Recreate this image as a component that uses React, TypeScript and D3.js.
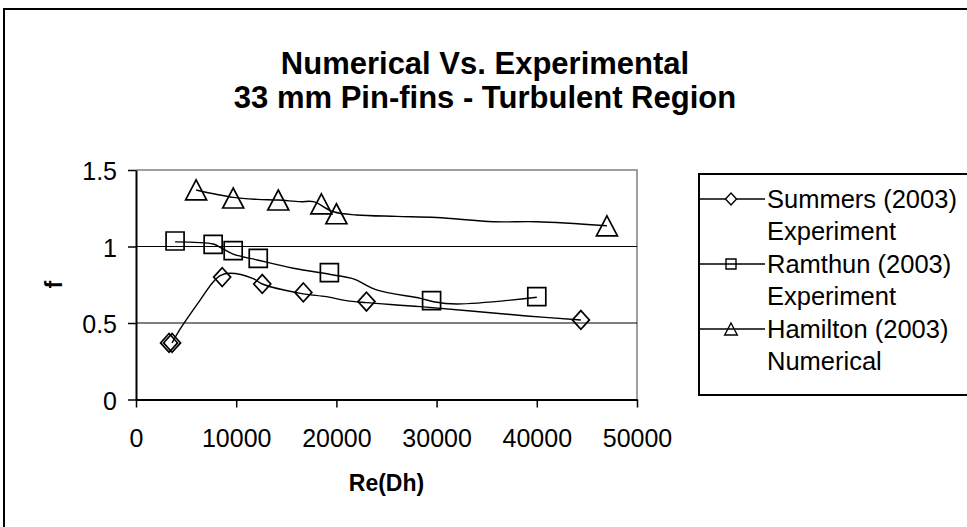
import { useEffect, useRef } from "react";
import * as d3 from "d3";

const WIDTH = 967;
const HEIGHT = 527;
const FONT = "'Liberation Sans', Arial, sans-serif";

// plot area in pixels
const PLOT = { left: 136, right: 637, top: 170, bottom: 399.5 };

const xTicks = [0, 10000, 20000, 30000, 40000, 50000];
const yTicks = [0, 0.5, 1, 1.5];
const yTickLabels = ["0", "0.5", "1", "1.5"];

// Summers (2003) Experiment
const summersRe = [3300, 3600, 8600, 12600, 16700, 23000, 44400];
const summersF = [0.37, 0.37, 0.8, 0.755, 0.7, 0.64, 0.52];
const summersLineRe = [3600, 4400, 6400, 7600, 8400, 9400, 11700, 12600, 16400, 19000, 21000, 23000, 28400, 39000, 44400];
const summersLineF = [0.37, 0.46, 0.65, 0.76, 0.81, 0.825, 0.79, 0.755, 0.694, 0.672, 0.646, 0.633, 0.607, 0.546, 0.52];

// Ramthun (2003) Experiment
const ramthunRe = [3900, 7700, 9700, 12200, 19300, 29500, 40000];
const ramthunF = [1.036, 1.014, 0.973, 0.923, 0.829, 0.646, 0.672];
const ramthunLineRe = [3900, 7700, 8400, 9700, 12100, 15700, 19700, 21700, 24000, 28400, 29700, 32000, 40000];
const ramthunLineF = [1.03, 1.016, 0.995, 0.95, 0.912, 0.858, 0.814, 0.788, 0.716, 0.661, 0.639, 0.624, 0.668];

// Hamilton (2003) Numerical
const hamiltonRe = [6000, 9700, 14200, 18500, 20000, 47000];
const hamiltonF = [1.37, 1.317, 1.304, 1.279, 1.214, 1.135];
const hamiltonLineRe = [6000, 9700, 12100, 14200, 16400, 17700, 19700, 22000, 26000, 30000, 35700, 40000, 47000];
const hamiltonLineF = [1.369, 1.321, 1.308, 1.304, 1.293, 1.293, 1.227, 1.206, 1.197, 1.19, 1.162, 1.162, 1.136];

const series = [
  { name: ["Summers (2003)", "Experiment"], marker: "diamond", re: summersRe, f: summersF, lineRe: summersLineRe, lineF: summersLineF },
  { name: ["Ramthun (2003)", "Experiment"], marker: "square", re: ramthunRe, f: ramthunF, lineRe: ramthunLineRe, lineF: ramthunLineF },
  { name: ["Hamilton (2003)", "Numerical"], marker: "triangle", re: hamiltonRe, f: hamiltonF, lineRe: hamiltonLineRe, lineF: hamiltonLineF },
];

// marker path centred on 0,0
const markerPath = (kind: string, s: number) => {
  const h = s / 2;
  if (kind === "diamond") return `M0,${-h * 1.1}L${h},0L0,${h * 1.1}L${-h},0Z`;
  if (kind === "square") return `M${-h},${-h}H${h}V${h}H${-h}Z`;
  return `M0,${-h}L${h * 1.05},${h}L${-h * 1.05},${h}Z`;
};
const markerSize: Record<string, number> = { diamond: 17, square: 18, triangle: 20 };
const legendMarkerSize: Record<string, number> = { diamond: 11, square: 10, triangle: 12 };

const App = () => {
  const svgRef = useRef(null);

  useEffect(() => {
    const svg = d3.select(svgRef.current);
    svg.selectAll("*").remove();

    const xScale = d3.scaleLinear().domain([0, 50000]).range([PLOT.left, PLOT.right]);
    const yScale = d3.scaleLinear().domain([0, 1.5]).range([PLOT.bottom, PLOT.top]);

    svg.append("rect").attr("width", WIDTH).attr("height", HEIGHT).attr("fill", "white");

    // outer chart border
    svg
      .append("rect")
      .attr("x", 4)
      .attr("y", 9)
      .attr("width", WIDTH + 20)
      .attr("height", HEIGHT + 20)
      .attr("fill", "none")
      .attr("stroke", "black")
      .attr("stroke-width", 2);

    // title
    const title = svg
      .append("text")
      .attr("text-anchor", "middle")
      .attr("font-family", FONT)
      .attr("font-weight", "bold")
      .attr("font-size", 31)
      .attr("fill", "black");
    title.append("tspan").attr("x", 485).attr("y", 74).text("Numerical Vs. Experimental");
    title.append("tspan").attr("x", 485).attr("y", 108).text("33 mm Pin-fins - Turbulent Region");

    // plot area border (gray top & right)
    svg
      .append("path")
      .attr("d", `M${PLOT.left},${PLOT.top}H${PLOT.right}V${PLOT.bottom}`)
      .attr("fill", "none")
      .attr("stroke", "#808080")
      .attr("stroke-width", 1.5);

    // gridlines
    svg
      .append("g")
      .selectAll("line")
      .data(yTicks.filter((t) => t > 0 && t < 1.5))
      .join("line")
      .attr("x1", PLOT.left)
      .attr("x2", PLOT.right)
      .attr("y1", (d) => yScale(d))
      .attr("y2", (d) => yScale(d))
      .attr("stroke", "black")
      .attr("stroke-width", 1);

    // y axis
    const yAxis = svg
      .append("g")
      .attr("transform", `translate(${PLOT.left},0)`)
      .call(d3.axisLeft(yScale).tickValues(yTicks).tickSize(8).tickSizeOuter(0).tickFormat((d, i) => yTickLabels[i]));
    yAxis.select(".domain").attr("stroke", "black").attr("stroke-width", 2);
    yAxis.selectAll(".tick line").attr("stroke", "black").attr("stroke-width", 1.5);
    yAxis
      .selectAll(".tick text")
      .attr("font-family", FONT)
      .attr("font-size", 25)
      .attr("fill", "black")
      .attr("x", -19)
      .attr("dy", "0.38em");

    // x axis
    const xAxis = svg
      .append("g")
      .attr("transform", `translate(0,${PLOT.bottom})`)
      .call(d3.axisBottom(xScale).tickValues(xTicks).tickSize(8).tickSizeOuter(0).tickFormat(d3.format("d")));
    xAxis.select(".domain").attr("stroke", "black").attr("stroke-width", 2);
    xAxis.selectAll(".tick line").attr("stroke", "black").attr("stroke-width", 1.5);
    xAxis
      .selectAll(".tick text")
      .attr("font-family", FONT)
      .attr("font-size", 25)
      .attr("fill", "black")
      .attr("y", 39)
      .attr("dy", "0.35em");

    // axis titles
    svg
      .append("text")
      .attr("x", (PLOT.left + PLOT.right) / 2)
      .attr("y", 483)
      .attr("dy", "0.35em")
      .attr("text-anchor", "middle")
      .attr("font-family", FONT)
      .attr("font-weight", "bold")
      .attr("font-size", 23)
      .text("Re(Dh)");
    svg
      .append("text")
      .attr("transform", `translate(54,${(PLOT.top + PLOT.bottom) / 2}) rotate(-90)`)
      .attr("dy", "0.35em")
      .attr("text-anchor", "middle")
      .attr("font-family", FONT)
      .attr("font-weight", "bold")
      .attr("font-size", 23)
      .text("f");

    // smoothed lines
    const lineGen = d3
      .line<[number, number]>()
      .x((d) => xScale(d[0]))
      .y((d) => yScale(d[1]))
      .curve(d3.curveCatmullRom.alpha(0.5));

    const plotG = svg.append("g");
    series.forEach((s) => {
      const pts = s.lineRe.map((r, i) => [r, s.lineF[i]] as [number, number]);
      plotG
        .append("path")
        .attr("d", lineGen(pts))
        .attr("fill", "none")
        .attr("stroke", "black")
        .attr("stroke-width", 1.4);
      plotG
        .append("g")
        .selectAll("path")
        .data(s.re.map((r, i) => [r, s.f[i]]))
        .join("path")
        .attr("transform", (d) => `translate(${xScale(d[0])},${yScale(d[1])})`)
        .attr("d", markerPath(s.marker, markerSize[s.marker]))
        .attr("fill", "none")
        .attr("stroke", "black")
        .attr("stroke-width", 1.7);
    });

    // legend
    const legend = svg.append("g");
    legend
      .append("rect")
      .attr("x", 699)
      .attr("y", 174)
      .attr("width", 300)
      .attr("height", 221)
      .attr("fill", "white")
      .attr("stroke", "black")
      .attr("stroke-width", 2);

    series.forEach((s, i) => {
      const y = 199 + i * 65;
      const row = legend.append("g");
      row
        .append("line")
        .attr("x1", 700)
        .attr("x2", 765)
        .attr("y1", y)
        .attr("y2", y)
        .attr("stroke", "black")
        .attr("stroke-width", 1.4);
      row
        .append("path")
        .attr("transform", `translate(731,${y})`)
        .attr("d", markerPath(s.marker, legendMarkerSize[s.marker]))
        .attr("fill", s.marker === "diamond" ? "white" : "none")
        .attr("stroke", "black")
        .attr("stroke-width", 1.4);
      row
        .append("text")
        .attr("font-family", FONT)
        .attr("font-size", 25.5)
        .attr("fill", "black")
        .selectAll("tspan")
        .data(s.name)
        .join("tspan")
        .attr("x", 767)
        .attr("y", (d, j) => y + j * 32)
        .attr("dy", "0.36em")
        .text((d) => d);
    });
  }, []);

  return (
    <svg
      ref={svgRef}
      width={WIDTH}
      height={HEIGHT}
      style={{ position: "fixed", left: 0, top: 0, display: "block" }}
    ></svg>
  );
};

export default App;
